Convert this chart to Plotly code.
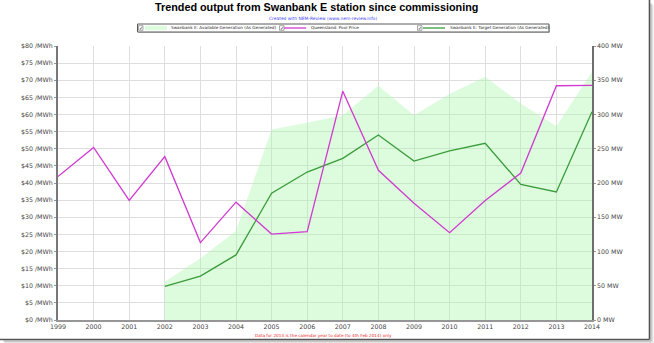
import plotly.graph_objects as go

# ---- data -------------------------------------------------------------
years = list(range(1999, 2015))
pool_price = [41.9, 50.4, 34.9, 47.7, 22.6, 34.4, 25.1, 25.8,
              66.8, 43.7, 34.1, 25.5, 34.9, 42.9, 68.4, 68.5]      # $/MWh

gen_years = list(range(2002, 2015))
available_gen = [56, 90, 130, 278, 288, 299, 342, 299, 330, 355, 316, 283, 362]  # MW
target_gen = [49, 64, 95, 185, 216, 236, 270, 232, 247, 258, 198, 187, 304]      # MW

price_ticks = list(range(0, 85, 5))
mw_ticks = list(range(0, 450, 50))

# ---- page geometry ----------------------------------------------------
W, H = 654, 343
ML, MR, MT, MB = 58, 62, 46, 23
PW, PH = W - ML - MR, H - MT - MB


def px(x):
    """pixel column -> paper x"""
    return (x - ML) / PW


def py(y):
    """pixel row (from top) -> paper y"""
    return (H - MB - y) / PH


MAGENTA = "rgb(208,58,208)"
GREEN = "rgb(58,156,58)"
FILL = "rgba(170,245,170,0.4)"
TICKFONT = dict(family="DejaVu Sans", size=6.3, color="rgb(70,70,70)")

fig = go.Figure()

fig.add_trace(go.Scatter(
    x=gen_years, y=available_gen, name="Swanbank E: Available Generation (As Generated)",
    mode="lines", line=dict(width=0, color=FILL), fill="tozeroy", fillcolor=FILL,
    yaxis="y", hoverinfo="x+y"))
fig.add_trace(go.Scatter(
    x=years, y=pool_price, name="Queensland: Pool Price",
    mode="lines", line=dict(width=1.3, color=MAGENTA), yaxis="y2"))
fig.add_trace(go.Scatter(
    x=gen_years, y=target_gen, name="Swanbank E: Target Generation (As Generated)",
    mode="lines", line=dict(width=1.3, color=GREEN), yaxis="y"))

fig.update_layout(
    width=W, height=H,
    margin=dict(l=ML, r=MR, t=MT, b=MB, pad=0),
    paper_bgcolor="white", plot_bgcolor="white",
    showlegend=False,
    xaxis=dict(
        range=[1999, 2014], tickvals=years, ticktext=[str(y) for y in years],
        showgrid=True, gridcolor="rgb(222,222,222)", gridwidth=1,
        showline=True, linecolor="rgb(150,150,150)", linewidth=1.5,
        ticks="", tickfont=TICKFONT, zeroline=False, fixedrange=True),
    # MW axis (right)
    yaxis=dict(
        range=[0, 400], side="right", tickvals=mw_ticks,
        ticktext=[f"{v} MW" for v in mw_ticks],
        showgrid=False, zeroline=False,
        showline=True, linecolor="rgb(110,110,110)", linewidth=1.5,
        ticks="outside", ticklen=2, tickcolor="rgb(150,150,150)",
        tickfont=TICKFONT),
    # price axis (left)
    yaxis2=dict(
        range=[0, 80], side="left", overlaying="y", tickvals=price_ticks,
        ticktext=[f"${v} /MWh" for v in price_ticks],
        showgrid=True, gridcolor="rgb(222,222,222)", gridwidth=1, zeroline=False,
        showline=True, linecolor="rgb(120,120,120)", linewidth=2,
        ticks="outside", ticklen=2, tickcolor="rgb(150,150,150)",
        tickfont=TICKFONT),
)

annotations = []
shapes = []

# title, credit line and footnote
annotations.append(dict(
    text="Trended output from Swanbank E station since commissioning",
    x=px(316), y=py(7.5), xref="paper", yref="paper", showarrow=False,
    xanchor="center", yanchor="middle",
    font=dict(family="Liberation Sans", size=10.8, color="black", weight="bold")))
annotations.append(dict(
    text="Created with NEM-Review (www.nem-review.info)",
    x=px(323), y=py(18.5), xref="paper", yref="paper", showarrow=False,
    xanchor="center", yanchor="middle",
    font=dict(family="DejaVu Sans", size=4.4, color="rgb(70,70,250)")))
annotations.append(dict(
    text="Data for 2014 is the calendar year to date (to 4th Feb 2014) only",
    x=px(323), y=py(335.5), xref="paper", yref="paper", showarrow=False,
    xanchor="center", yanchor="middle",
    font=dict(family="DejaVu Sans", size=4.2, color="rgb(240,40,40)")))

# legend strip
LY0, LY1 = 24, 32
LYC = (LY0 + LY1) / 2
shapes.append(dict(type="rect", xref="paper", yref="paper",
                   x0=px(138.5), x1=px(550), y0=py(LY0 + 1), y1=py(LY1 + 1),
                   line=dict(width=0), fillcolor="rgb(200,200,200)", layer="above"))
shapes.append(dict(type="rect", xref="paper", yref="paper",
                   x0=px(137.5), x1=px(549), y0=py(LY0), y1=py(LY1),
                   line=dict(width=1, color="rgb(90,90,90)"), fillcolor="white", layer="above"))

legend_items = [
    # checkbox x, swatch kind, swatch x0, x1, text x, label, colour
    (138.5, "fill", 145, 167, 169.3, fig.data[0].name, None),
    (279.5, "line", 284, 306, 309.0, fig.data[1].name, MAGENTA),
    (417.5, "line", 423, 445, 448.3, fig.data[2].name, GREEN),
]
for cbx, kind, sx0, sx1, tx, label, col in legend_items:
    shapes.append(dict(type="rect", xref="paper", yref="paper",
                       x0=px(cbx), x1=px(cbx + 4.5), y0=py(LYC - 2.3), y1=py(LYC + 2.3),
                       line=dict(width=0.6, color="rgb(110,110,110)"), fillcolor="white",
                       layer="above"))
    annotations.append(dict(text="✓", x=px(cbx + 2.3), y=py(LYC), xref="paper", yref="paper",
                            showarrow=False, xanchor="center", yanchor="middle",
                            font=dict(family="DejaVu Sans", size=5, color="rgb(20,20,20)")))
    if kind == "fill":
        shapes.append(dict(type="rect", xref="paper", yref="paper",
                           x0=px(sx0), x1=px(sx1), y0=py(LYC - 2.2), y1=py(LYC + 2.2),
                           line=dict(width=0), fillcolor="rgb(221,251,221)", layer="above"))
    else:
        shapes.append(dict(type="line", xref="paper", yref="paper",
                           x0=px(sx0), x1=px(sx1), y0=py(LYC), y1=py(LYC),
                           line=dict(width=1.3, color=col), layer="above"))
    annotations.append(dict(text=label, x=px(tx), y=py(LYC), xref="paper", yref="paper",
                            showarrow=False, xanchor="left", yanchor="middle",
                            font=dict(family="DejaVu Sans", size=4.2, color="rgb(40,40,40)")))

# framed picture edge with a soft drop shadow
for off, col in [(3.5, "rgb(232,232,232)"), (2.5, "rgb(205,205,205)"), (1.5, "rgb(170,170,170)")]:
    shapes.append(dict(type="line", xref="paper", yref="paper",
                       x0=px(649.5 + off), x1=px(649.5 + off), y0=py(2 + off), y1=py(339.5 + off),
                       line=dict(width=1, color=col), layer="above"))
    shapes.append(dict(type="line", xref="paper", yref="paper",
                       x0=px(2 + off), x1=px(649.5 + off), y0=py(339.5 + off), y1=py(339.5 + off),
                       line=dict(width=1, color=col), layer="above"))
shapes.append(dict(type="line", xref="paper", yref="paper",
                   x0=px(649.5), x1=px(649.5), y0=py(0), y1=py(339.5),
                   line=dict(width=1.6, color="rgb(85,85,85)"), layer="above"))
shapes.append(dict(type="line", xref="paper", yref="paper",
                   x0=px(0), x1=px(649.5), y0=py(339.5), y1=py(339.5),
                   line=dict(width=1.6, color="rgb(85,85,85)"), layer="above"))

fig.update_layout(annotations=annotations, shapes=shapes)

fig.write_html("out.html")
